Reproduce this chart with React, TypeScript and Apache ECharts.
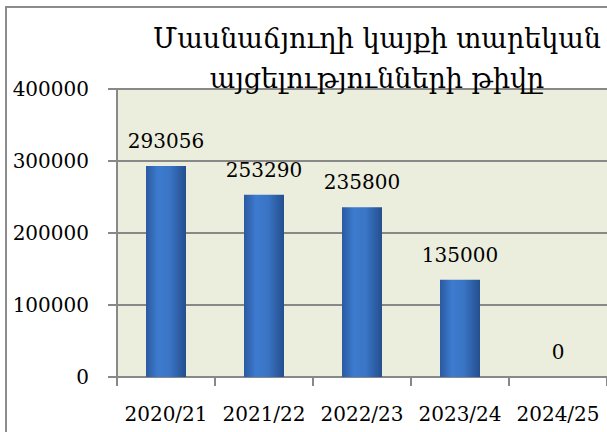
import React, { useEffect, useRef } from "react";
import * as echarts from "echarts";

const categories = ["2020/21", "2021/22", "2022/23", "2023/24", "2024/25"];
const visits = [293056, 253290, 235800, 135000, 0];
const titleLines = ["Մասնաճյուղի կայքի տարեկան", "այցելությունների թիվը"];

const FONT = "'DejaVu Serif', 'Liberation Serif', serif";

export default function App() {
  const ref = useRef<HTMLDivElement>(null);
  useEffect(() => {
    const chart = echarts.init(ref.current!, null, { renderer: "svg" });
    chart.setOption({
      animation: false,
      backgroundColor: "#ffffff",
      graphic: [
        {
          type: "rect",
          shape: { x: 6, y: 7, width: 700, height: 500 },
          style: { fill: "none", stroke: "#8c8c8c", lineWidth: 2 },
          z: 0,
        },
      ],
      title: {
        text: titleLines.join("\n"),
        left: 372,
        top: 13,
        textAlign: "center",
        textStyle: {
          fontFamily: FONT,
          fontSize: 27,
          fontWeight: "normal",
          color: "#000",
          lineHeight: 40,
        },
      },
      grid: {
        left: 117,
        right: -5,
        top: 89,
        bottom: 55,
        show: true,
        backgroundColor: "#ebeddd",
        borderWidth: 0,
      },
      xAxis: {
        type: "category",
        data: categories,
        axisLine: { show: true, lineStyle: { color: "#888", width: 2 } },
        axisTick: { show: true, length: 9, lineStyle: { color: "#888", width: 2 } },
        axisLabel: { fontFamily: FONT, fontSize: 20, color: "#000", margin: 27, interval: 0 },
      },
      yAxis: {
        type: "value",
        min: 0,
        max: 400000,
        interval: 100000,
        axisLine: { show: true, lineStyle: { color: "#888", width: 2 } },
        axisTick: { show: true, length: 9, lineStyle: { color: "#888", width: 2 } },
        splitLine: { show: true, lineStyle: { color: "#888", width: 2 } },
        axisLabel: {
          fontFamily: FONT,
          fontSize: 20,
          color: "#000",
          margin: 28,
          formatter: (v: number) => String(v),
        },
      },
      series: [
        {
          type: "bar",
          data: visits,
          barWidth: 40,
          itemStyle: {
            color: new echarts.graphic.LinearGradient(0, 0, 1, 0, [
              { offset: 0, color: "#2a5aa0" },
              { offset: 0.3, color: "#3d7bcf" },
              { offset: 0.6, color: "#3a74c4" },
              { offset: 1, color: "#244f8e" },
            ]),
          },
          label: {
            show: true,
            position: "top",
            distance: 15,
            fontFamily: FONT,
            fontSize: 20,
            color: "#000",
          },
        },
      ],
    });
    return () => chart.dispose();
  }, []);
  return (
    <div
      ref={ref}
      style={{ position: "absolute", left: 0, top: 0, width: 607, height: 432 }}
    />
  );
}
